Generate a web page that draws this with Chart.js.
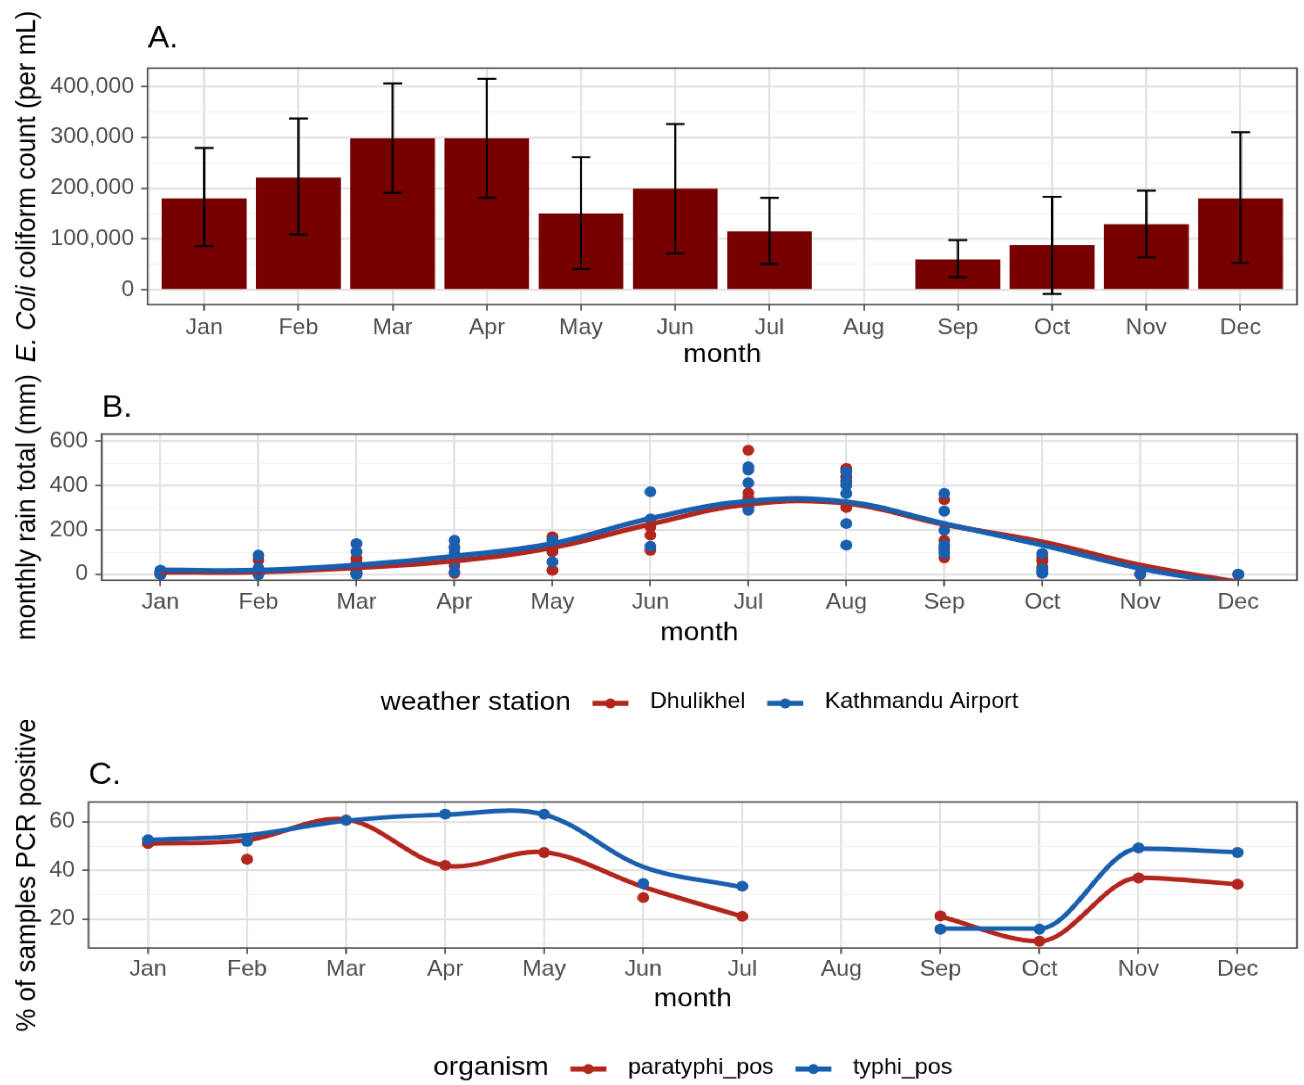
<!DOCTYPE html>
<html>
<head>
<meta charset="utf-8">
<script src="https://cdn.jsdelivr.net/npm/chart.js@4.4.1/dist/chart.umd.min.js"></script>
<style>
  html, body { margin: 0; padding: 0; background: #fff; overflow: hidden; }
  #wrap { position: relative; width: 1208px; height: 1085px; transform: scaleX(1.0795); transform-origin: 0 0; }
  #wrap canvas { position: absolute; left: 0; }
</style>
</head>
<body>
<div id="wrap">
  <canvas id="chartA" width="1208" height="375" style="top:0px"></canvas>
  <canvas id="chartB" width="1208" height="345" style="top:375px"></canvas>
  <canvas id="chartC" width="1208" height="365" style="top:720px"></canvas>
</div>
<script>
const months = ['Jan', 'Feb', 'Mar', 'Apr', 'May', 'Jun', 'Jul', 'Aug', 'Sep', 'Oct', 'Nov', 'Dec'];

// A. E. coli coliform count (per mL): bar height and error bar ends
const coliMean = [180000, 221000, 298000, 298000, 150000, 199000, 115000, null, 60000, 88000, 129000, 180000];
const coliLow  = [86000, 109000, 191000, 181000, 41000, 72000, 51000, null, 25000, -8000, 64000, 53000];
const coliHigh = [279000, 337000, 406000, 415000, 261000, 326000, 181000, null, 98000, 183000, 195000, 310000];
const coliTicks = [0, 50000, 100000, 150000, 200000, 250000, 300000, 350000, 400000];

// B. monthly rain totals (mm), one list of yearly values per month
const dhulikhelRain = [
  [0, 4, 9], [0, 8, 14, 65], [3, 12, 50, 72], [5, 40, 73, 124], [19, 102, 121, 169], [109, 177, 214],
  [345, 367, 559], [301, 439, 477], [75, 120, 154, 337], [34, 60, 75], [0, 2], [0]
];
const kathmanduRain = [
  [0, 10, 19], [0, 5, 20, 30, 87], [0, 5, 34, 102, 139], [12, 57, 96, 120, 154], [57, 132, 154], [127, 250, 372],
  [289, 300, 412, 470, 484], [132, 229, 364, 402, 420, 462], [95, 109, 132, 199, 285, 364], [5, 12, 25, 94], [1, 4], [1]
];
const dhulikhelFit = [10, 12, 30, 61, 121, 226, 316, 320, 225, 147, 42, -35];
const kathmanduFit = [20, 19, 42, 82, 139, 252, 330, 327, 229, 132, 27, -45];
const rainTicks = [0, 100, 200, 300, 400, 500, 600];

// C. % of samples PCR positive
const paratyphiPct = [51.1, 44.6, 60.7, 42.1, 47.4, 28.8, 21.1, null, 21.2, 10.8, 36.9, 34.3];
const typhiPct     = [52.7, 52.0, 60.7, 63.2, 63.2, 34.6, 33.5, null, 15.8, 15.8, 49.3, 47.4];
const paratyphiFit = [51.0, 52.5, 61.0, 42.0, 47.5, 33.2, 21.0, null, 21.0, 10.8, 37.0, 34.3];
const typhiFit     = [52.5, 54.5, 60.5, 63.0, 63.0, 41.5, 33.0, null, 16.0, 16.0, 49.0, 47.5];
const pcrTicks = [10, 20, 30, 40, 50, 60];

const FONT = "'Liberation Sans', Arial, Helvetica, sans-serif";
const SX = 1304 / 1208;
const RED = '#b3261e', BLUE = '#1a5fae', BAR = '#760000';
const GRID_MAJOR = '#e3e3e3', GRID_MINOR = '#f0f0f0';
const TICK_SIZE = 21.5, TITLE_SIZE = 26;

Chart.defaults.font.family = FONT;
Chart.defaults.color = '#4d4d4d';
Chart.defaults.animation = false;

function xAxis(height, pad) {
  return {
    type: 'linear', min: 0.4, max: 12.6, offset: false,
    afterBuildTicks: s => { s.ticks = months.map((m, i) => ({ value: i + 1 })); },
    afterFit: s => { s.height = height; },
    ticks: { callback: v => months[v - 1], font: { size: TICK_SIZE }, color: '#4d4d4d', padding: pad, autoSkip: false, maxRotation: 0 },
    grid: { color: GRID_MAJOR, lineWidth: 2, tickLength: 6, tickWidth: 1.3, tickColor: '#333', offset: false },
    border: { display: false }
  };
}

function yAxis(min, max, ticks, major, fmt, width) {
  const isMajor = v => Math.abs(v % major) < 1e-9;
  return {
    type: 'linear', min, max,
    afterBuildTicks: s => { s.ticks = ticks.map(v => ({ value: v })); },
    afterFit: s => { s.width = width; },
    ticks: { callback: v => isMajor(v) ? fmt(v) : '', font: { size: TICK_SIZE }, color: '#4d4d4d', padding: 6.5, autoSkip: false },
    grid: {
      color: c => isMajor(c.tick.value) ? GRID_MAJOR : GRID_MINOR,
      lineWidth: c => isMajor(c.tick.value) ? 2 : 1,
      tickLength: 6, tickWidth: 1.3,
      tickColor: c => isMajor(c.tick.value) ? '#333' : 'rgba(0,0,0,0)'
    },
    border: { display: false }
  };
}

// panel letter, axis titles, border, error bars and the inline legend
function decor(cfg) {
  return {
    id: 'decor',
    afterDatasetsDraw(chart) {
      const ctx = chart.ctx, a = chart.chartArea;
      if (cfg.errLow) {
        const xs = chart.scales.x, ys = chart.scales.y;
        ctx.save();
        ctx.strokeStyle = '#000';
        ctx.lineWidth = 2;
        cfg.errLow.forEach((lo, i) => {
          const hi = cfg.errHigh[i];
          if (lo == null || hi == null) return;
          const x = xs.getPixelForValue(i + 1);
          const w = xs.getPixelForValue(i + 1.1) - x;
          const y0 = ys.getPixelForValue(lo), y1 = ys.getPixelForValue(hi);
          ctx.beginPath();
          ctx.moveTo(x, y0); ctx.lineTo(x, y1);
          ctx.moveTo(x - w, y0); ctx.lineTo(x + w, y0);
          ctx.moveTo(x - w, y1); ctx.lineTo(x + w, y1);
          ctx.stroke();
        });
        ctx.restore();
      }
      ctx.save();
      ctx.strokeStyle = '#4d4d4d';
      ctx.lineWidth = 1.5;
      ctx.strokeRect(a.left, a.top, a.right - a.left, a.bottom - a.top);
      ctx.restore();
    },
    afterDraw(chart) {
      const ctx = chart.ctx, a = chart.chartArea;
      const cx = (a.left + a.right) / 2, cy = (a.top + a.bottom) / 2;
      ctx.save();
      ctx.fillStyle = '#000';
      ctx.textAlign = 'left';
      ctx.textBaseline = 'alphabetic';
      ctx.font = `30px ${FONT}`;
      ctx.fillText(cfg.tag, a.left, cfg.tagY);

      ctx.textAlign = 'center';
      ctx.font = `${TITLE_SIZE}px ${FONT}`;
      ctx.fillText('month', cx, cfg.xTitleY);

      // rotated y title, possibly in several font styles
      ctx.save();
      ctx.translate(32, cy);
      ctx.rotate(-Math.PI / 2);
      ctx.textAlign = 'left';
      const parts = cfg.yTitle.map(p => {
        ctx.font = `${p[1]} ${TITLE_SIZE}px ${FONT}`;
        return { text: p[0], font: ctx.font, w: ctx.measureText(p[0]).width };
      });
      let x = -parts.reduce((s, p) => s + p.w, 0) / 2;
      parts.forEach(p => { ctx.font = p.font; ctx.fillText(p.text, x, 0); x += p.w; });
      ctx.restore();

      if (cfg.legend) {
        const L = cfg.legend, g = 20, k = 33.4, y = L.y;
        ctx.font = `${TITLE_SIZE}px ${FONT}`;
        const tw = ctx.measureText(L.title).width;
        ctx.font = `${TICK_SIZE}px ${FONT}`;
        const ws = L.items.map(it => ctx.measureText(it.label).width);
        const total = tw + ws.reduce((s, w) => s + 2 * g + k + w, 0);
        let lx = cx - total / 2;
        ctx.textAlign = 'left';
        ctx.textBaseline = 'middle';
        ctx.fillStyle = '#000';
        ctx.font = `${TITLE_SIZE}px ${FONT}`;
        ctx.fillText(L.title, lx, y);
        lx += tw;
        L.items.forEach((it, i) => {
          lx += g;
          ctx.strokeStyle = it.color;
          ctx.fillStyle = it.color;
          ctx.lineWidth = 5;
          ctx.beginPath();
          ctx.moveTo(lx, y + 1); ctx.lineTo(lx + k, y + 1);
          ctx.stroke();
          ctx.beginPath();
          ctx.arc(lx + k / 2, y + 1, 5, 0, Math.PI * 2);
          ctx.fill();
          lx += k + g;
          ctx.fillStyle = '#000';
          ctx.font = `${TICK_SIZE}px ${FONT}`;
          ctx.fillText(it.label, lx, y);
          lx += ws[i];
        });
      }
      ctx.restore();
    }
  };
}

function baseOptions(pad) {
  return {
    responsive: false,
    devicePixelRatio: SX,
    layout: { padding: pad },
    plugins: { legend: { display: false }, tooltip: { enabled: false } }
  };
}

const monthPoints = vals => vals.map((v, i) => ({ x: i + 1, y: v }));
// keep only months first..last of a series (1-based), for drawing a stretch with its own curve style
const monthRange = (vals, first, last) => vals.map((v, i) => ({ x: i + 1, y: (i + 1 >= first && i + 1 <= last) ? v : null }));
const spread = lists => lists.flatMap((vals, i) => vals.map(v => ({ x: i + 1, y: v })));

// Panel A
new Chart(document.getElementById('chartA'), {
  type: 'bar',
  data: {
    datasets: [{
      data: monthPoints(coliMean),
      backgroundColor: BAR,
      barPercentage: 0.9,
      categoryPercentage: 1
    }]
  },
  options: Object.assign(baseOptions({ left: 0, right: 6.5, top: 68, bottom: 0 }), {
    scales: {
      x: xAxis(375 - 304, 5),
      y: yAxis(-29000, 436000, coliTicks, 100000, v => v.toLocaleString('en-US'), 136.8)
    }
  }),
  plugins: [decor({
    tag: 'A.', tagY: 47.7, xTitleY: 361.5,
    yTitle: [['E. Coli', 'italic'], [' coliform count (per mL)', 'normal']],
    errLow: coliLow, errHigh: coliHigh
  })]
});

// Panel B
new Chart(document.getElementById('chartB'), {
  type: 'scatter',
  data: {
    datasets: [
      { data: monthPoints(kathmanduFit), showLine: true, borderColor: BLUE, borderWidth: 5, pointRadius: 0, tension: 0.4, clip: 0, order: 0 },
      { data: monthPoints(dhulikhelFit), showLine: true, borderColor: RED, borderWidth: 5, pointRadius: 0, tension: 0.4, clip: 0, order: 1 },
      { data: spread(kathmanduRain), backgroundColor: BLUE, borderWidth: 0, pointRadius: 5.5, order: 2 },
      { data: spread(dhulikhelRain), backgroundColor: RED, borderWidth: 0, pointRadius: 5.5, order: 3 }
    ]
  },
  options: Object.assign(baseOptions({ left: 0, right: 6.5, top: 59, bottom: 0 }), {
    scales: {
      x: xAxis(345 - 205, 4),
      y: yAxis(-26, 631.5, rainTicks, 200, v => String(v), 94.2)
    }
  }),
  plugins: [decor({
    tag: 'B.', tagY: 41.5, xTitleY: 264.5,
    yTitle: [['monthly rain total (mm)', 'normal']],
    legend: { title: 'weather station', y: 327, items: [{ label: 'Dhulikhel', color: RED }, { label: 'Kathmandu Airport', color: BLUE }] }
  })]
});

// Panel C: Jan-Jul stretch drawn as a tension spline, Sep-Dec as a monotone one
const cLine = (vals, color, first, last, order, mono) => ({
  data: monthRange(vals, first, last), showLine: true, borderColor: color, borderWidth: 4.5, pointRadius: 0,
  tension: 0.35, cubicInterpolationMode: mono ? 'monotone' : 'default', clip: 0, order
});
new Chart(document.getElementById('chartC'), {
  type: 'scatter',
  data: {
    datasets: [
      cLine(typhiFit, BLUE, 1, 7, 2, false),
      cLine(typhiFit, BLUE, 9, 12, 2, true),
      cLine(paratyphiFit, RED, 1, 7, 3, false),
      cLine(paratyphiFit, RED, 9, 12, 3, true),
      { data: monthPoints(typhiPct), backgroundColor: BLUE, borderWidth: 0, pointRadius: 5.5, order: 0 },
      { data: monthPoints(paratyphiPct), backgroundColor: RED, borderWidth: 0, pointRadius: 5.5, order: 1 }
    ]
  },
  options: Object.assign(baseOptions({ left: 0, right: 6.5, top: 82, bottom: 0 }), {
    scales: {
      x: xAxis(365 - 228, 3),
      y: yAxis(8, 68.2, pcrTicks, 20, v => String(v), 82)
    }
  }),
  plugins: [decor({
    tag: 'C.', tagY: 63.5, xTitleY: 286.5,
    yTitle: [['% of samples PCR positive', 'normal']],
    legend: { title: 'organism', y: 348, items: [{ label: 'paratyphi_pos', color: RED }, { label: 'typhi_pos', color: BLUE }] }
  })]
});
</script>
</body>
</html>
